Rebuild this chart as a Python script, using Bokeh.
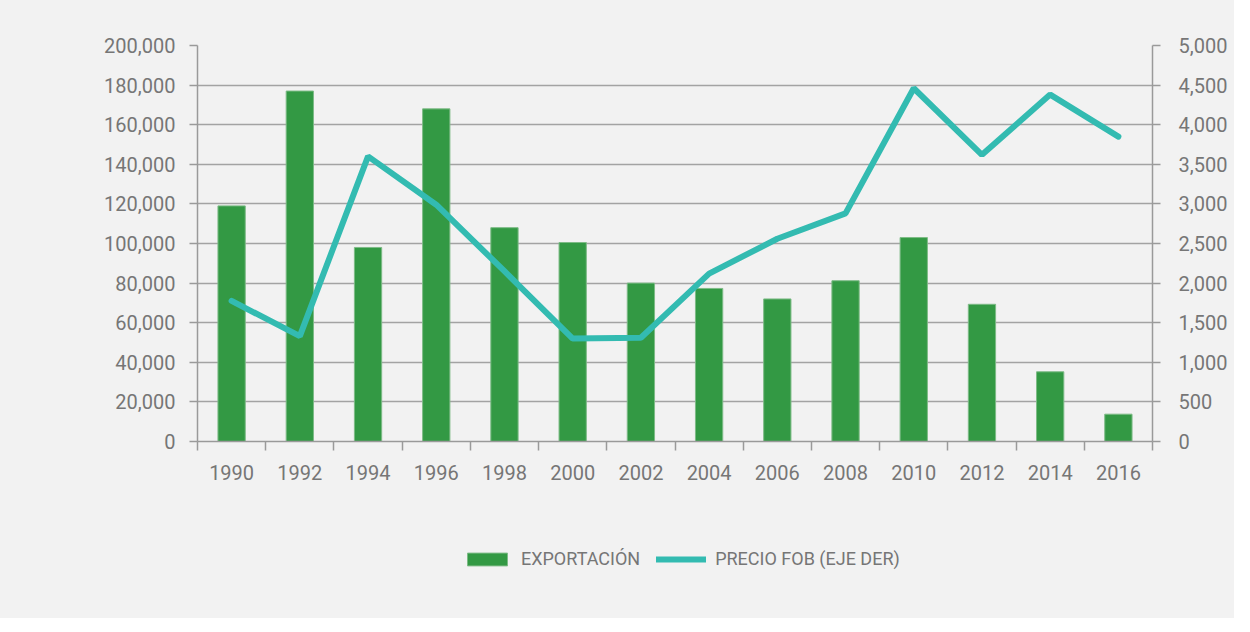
from bokeh.plotting import figure
from bokeh.layouts import column
from bokeh.models import (Range1d, LinearAxis, FixedTicker, NumeralTickFormatter,
                          Legend, LegendItem)
from bokeh.embed import file_html
from bokeh.resources import INLINE

# ---- data ----
years = ["1990", "1992", "1994", "1996", "1998", "2000", "2002",
         "2004", "2006", "2008", "2010", "2012", "2014", "2016"]
exportacion = [119000, 177000, 98000, 168000, 108000, 100500, 80000,
               77300, 72000, 81200, 103000, 69300, 35200, 13800]
precio_fob = [1775, 1330, 3600, 2990, 2150, 1300, 1310,
              2120, 2560, 2880, 4460, 3620, 4380, 3850]
left_ticks = list(range(0, 200001, 20000))
right_ticks = list(range(0, 5001, 500))
series_names = ["EXPORTACIÓN", "PRECIO FOB (EJE DER)"]

FONT = "Roboto"
TXT = "#767676"
BG = "#f2f2f2"
AX = "#9a9a9a"
GREEN = "#339944"
TEAL = "#33bbb1"

xs = [i + 0.5 for i in range(len(years))]

p = figure(width=1234, height=516, output_backend="svg", toolbar_location=None,
           x_range=Range1d(0, len(years)), y_range=Range1d(0, 200000),
           frame_width=955, frame_height=396,
           min_border_left=197, min_border_right=82, min_border_top=45, min_border_bottom=75)
p.background_fill_color = BG
p.border_fill_color = BG
p.outline_line_color = None
p.extra_y_ranges = {"precio": Range1d(0, 5000)}

p.vbar(x=xs, top=exportacion, width=0.4, fill_color=GREEN,
       line_color="#7dbb86", line_width=1)
p.line(x=xs, y=precio_fob, y_range_name="precio", line_color=TEAL,
       line_width=6, line_cap="round")

# x axis
xa = p.xaxis[0]
xa.ticker = FixedTicker(ticks=xs, minor_ticks=list(range(len(years) + 1)))
xa.major_label_overrides = {x: y for x, y in zip(xs, years)}
xa.major_tick_out = 0
xa.major_tick_in = 0
xa.minor_tick_out = 9
xa.minor_tick_in = 0
xa.minor_tick_line_color = AX
xa.minor_tick_line_width = 1.5
xa.major_label_standoff = 14

# left axis
ya = p.yaxis[0]
ya.ticker = FixedTicker(ticks=left_ticks)
ya.formatter = NumeralTickFormatter(format="0,0")
ya.major_tick_out = 8
ya.major_tick_in = 0
ya.minor_tick_out = 0
ya.minor_tick_in = 0
ya.major_label_standoff = 14

# right axis
ra = LinearAxis(y_range_name="precio", ticker=FixedTicker(ticks=right_ticks),
                formatter=NumeralTickFormatter(format="0,0"))
ra.major_tick_out = 8
ra.major_tick_in = 0
ra.minor_tick_out = 0
ra.minor_tick_in = 0
ra.major_label_standoff = 18
p.add_layout(ra, "right")

for ax in [xa, ya, ra]:
    ax.axis_line_color = AX
    ax.axis_line_width = 1.5
    ax.major_tick_line_color = AX
    ax.major_tick_line_width = 1.5
    ax.major_label_text_font = FONT
    ax.major_label_text_font_size = "20px"
    ax.major_label_text_color = TXT

p.xgrid.grid_line_color = None
p.ygrid.ticker = FixedTicker(ticks=left_ticks)
p.ygrid.grid_line_color = "#a3a3a3"
p.ygrid.grid_line_width = 1.5

# ---- legend strip below the chart (hidden copies of the series, only for legend swatches) ----
lg = figure(width=1234, height=102, output_backend="svg", toolbar_location=None,
            x_axis_type=None, y_axis_type=None,
            x_range=Range1d(0, len(years)), y_range=Range1d(0, 200000),
            min_border=0)
lg.background_fill_color = BG
lg.background_fill_alpha = 0
lg.border_fill_color = BG
lg.outline_line_color = None
r_bar = lg.vbar(x=xs, top=exportacion, width=0.4, fill_color=GREEN, line_color="#7dbb86")
r_line = lg.line(x=xs, y=precio_fob, line_color=TEAL, line_width=6, line_cap="round")
r_bar.visible = False
r_line.visible = False

legend = Legend(items=[LegendItem(label=series_names[0], renderers=[r_bar]),
                       LegendItem(label=series_names[1], renderers=[r_line])],
                orientation="horizontal", location=(265, 49),
                glyph_width=50, glyph_height=16, label_standoff=9, spacing=16,
                padding=0, margin=0, border_line_color=None,
                background_fill_alpha=0, inactive_fill_alpha=0,
                label_text_font=FONT, label_text_font_size="18px",
                label_text_color=TXT)
lg.add_layout(legend, "center")

layout = column(p, lg, spacing=0, styles={"background-color": BG})
open("out.html", "w").write(file_html(layout, INLINE))
